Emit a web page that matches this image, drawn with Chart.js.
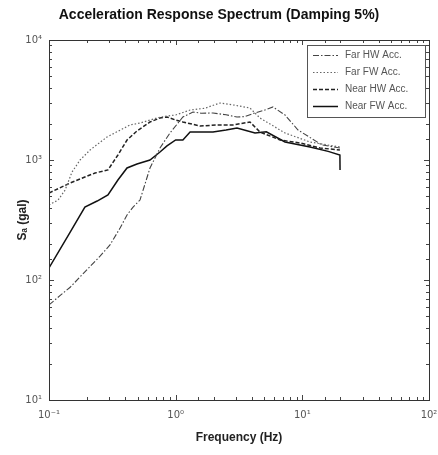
<!DOCTYPE html>
<html>
<head>
<meta charset="utf-8">
<script src="https://cdn.jsdelivr.net/npm/chart.js@4/dist/chart.umd.min.js"></script>
<style>
  html, body { margin: 0; padding: 0; background: #fff; }
  #wrap { width: 438px; height: 455px; }
</style>
</head>
<body>
<div id="wrap"><canvas id="spectrum" width="438" height="455"></canvas></div>
<script>
// values (frequency in Hz, Sa in gal)
const farHwFreq = [0.1, 0.122, 0.147, 0.192, 0.253, 0.303, 0.364, 0.413, 0.461, 0.523, 0.627, 0.752, 0.902, 1.14, 1.37, 1.6, 1.97, 2.5, 3.05, 3.5, 4.23, 5.0, 5.87, 7.3, 9.25, 14.3, 19.8];
const farHwAcc  = [62, 74, 87, 117, 158, 196, 271, 348, 405, 464, 858, 1259, 1679, 2281, 2512, 2450, 2466, 2380, 2281, 2300, 2466, 2600, 2766, 2371, 1778, 1334, 1259];

const farFwFreq = [0.1, 0.118, 0.134, 0.152, 0.176, 0.211, 0.287, 0.436, 0.523, 0.712, 0.854, 1.0, 1.3, 1.7, 2.24, 3.0, 3.86, 4.63, 7.3, 11.5, 19.8];
const farFwAcc  = [422, 464, 562, 794, 1000, 1212, 1555, 1958, 2033, 2239, 2326, 2371, 2610, 2700, 2985, 2850, 2710, 2239, 1679, 1413, 1283];

const nearHwFreq = [0.1, 0.147, 0.192, 0.231, 0.292, 0.35, 0.413, 0.495, 0.627, 0.752, 0.854, 1.0, 1.14, 1.56, 2.12, 2.84, 3.86, 4.63, 6.67, 9.59, 13.8, 19.8];
const nearHwAcc  = [531, 643, 721, 779, 826, 1101, 1468, 1745, 2074, 2239, 2281, 2154, 2074, 1920, 1958, 1958, 2074, 1711, 1468, 1386, 1259, 1212];

const nearFwFreq = [0.1, 0.147, 0.192, 0.24, 0.292, 0.35, 0.413, 0.495, 0.627, 0.752, 0.854, 1.0, 1.14, 1.3, 1.97, 2.5, 3.05, 4.23, 5.2, 7.3, 11.5, 16, 19.8, 19.85];
const nearFwAcc  = [126, 251, 405, 455, 511, 681, 858, 926, 1000, 1166, 1309, 1468, 1468, 1711, 1711, 1778, 1848, 1679, 1720, 1413, 1283, 1180, 1100, 826];

const seriesLabels = ['Far HW Acc.', 'Far FW Acc.', 'Near HW Acc.', 'Near FW Acc.'];
const xTickLabels = {'-1': '10⁻¹', '0': '10⁰', '1': '10¹', '2': '10²'};
const yTickLabels = {'1': '10¹', '2': '10²', '3': '10³', '4': '10⁴'};

const toPoints = (fs, vs) => fs.map((f, i) => ({x: f, y: vs[i]}));

const powerLabel = (table) => (value) => {
    const e = Math.log10(value);
    const r = Math.round(e);
    return Math.abs(e - r) < 1e-6 && table[r] !== undefined ? table[r] : '';
};

// box round the plot with inward tick marks on all four sides
const boxTicks = {
    id: 'boxTicks',
    afterDraw(chart) {
        const {ctx, chartArea: a, scales} = chart;
        ctx.save();
        ctx.strokeStyle = '#444';
        ctx.lineWidth = 1;
        ctx.beginPath();
        scales.x.ticks.forEach((t) => {
            const px = Math.round(scales.x.getPixelForValue(t.value)) + 0.5;
            const len = t.label ? 5 : 3;
            ctx.moveTo(px, a.bottom); ctx.lineTo(px, a.bottom - len);
            ctx.moveTo(px, a.top); ctx.lineTo(px, a.top + len);
        });
        scales.y.ticks.forEach((t) => {
            const py = Math.round(scales.y.getPixelForValue(t.value)) + 0.5;
            const len = t.label ? 5 : 3;
            ctx.moveTo(a.left, py); ctx.lineTo(a.left + len, py);
            ctx.moveTo(a.right, py); ctx.lineTo(a.right - len, py);
        });
        ctx.stroke();
        ctx.strokeStyle = '#333';
        ctx.strokeRect(Math.round(a.left) + 0.5, Math.round(a.top) + 0.5, Math.round(a.right - a.left), Math.round(a.bottom - a.top));
        ctx.restore();
    }
};

const boxLegend = {
    id: 'boxLegend',
    afterDatasetsDraw(chart) {
        const ctx = chart.ctx;
        const a = chart.chartArea;
        const x0 = a.right - 122, y0 = a.top + 5, w = 118, h = 72;
        ctx.save();
        ctx.fillStyle = '#fff';
        ctx.fillRect(x0, y0, w, h);
        ctx.strokeStyle = '#555';
        ctx.lineWidth = 1;
        ctx.strokeRect(x0 + 0.5, y0 + 0.5, w, h);
        chart.data.datasets.forEach((ds, i) => {
            const y = y0 + 10.5 + i * 17;
            ctx.beginPath();
            ctx.setLineDash(ds.borderDash || []);
            ctx.strokeStyle = ds.borderColor;
            ctx.lineWidth = ds.borderWidth;
            ctx.moveTo(x0 + 6, y);
            ctx.lineTo(x0 + 31, y);
            ctx.stroke();
            ctx.setLineDash([]);
            ctx.fillStyle = '#555';
            ctx.font = '10px "Liberation Sans", Arial, sans-serif';
            ctx.textBaseline = 'middle';
            ctx.fillText(ds.label, x0 + 38, y);
        });
        ctx.restore();
    }
};

const ctx = document.getElementById('spectrum').getContext('2d');
new Chart(ctx, {
    type: 'line',
    data: {
        datasets: [
            {label: seriesLabels[0], data: toPoints(farHwFreq, farHwAcc), borderColor: '#444', borderWidth: 1.1, borderDash: [6, 2, 1.5, 2]},
            {label: seriesLabels[1], data: toPoints(farFwFreq, farFwAcc), borderColor: '#666', borderWidth: 1.2, borderDash: [1.5, 2]},
            {label: seriesLabels[2], data: toPoints(nearHwFreq, nearHwAcc), borderColor: '#222', borderWidth: 1.5, borderDash: [4, 2]},
            {label: seriesLabels[3], data: toPoints(nearFwFreq, nearFwAcc), borderColor: '#111', borderWidth: 1.5}
        ]
    },
    options: {
        responsive: false,
        animation: false,
        devicePixelRatio: 1,
        elements: {point: {radius: 0}, line: {tension: 0, fill: false}},
        layout: {padding: {top: 0, right: 0, left: 0, bottom: 0}},
        plugins: {
            legend: {display: false},
            tooltip: {enabled: false},
            title: {
                display: true,
                text: 'Acceleration Response Spectrum (Damping 5%)',
                color: '#111',
                font: {family: '"Liberation Sans", Arial, sans-serif', size: 14, weight: 'bold', lineHeight: 1.2},
                padding: {top: 7, bottom: 16.2}
            }
        },
        scales: {
            x: {
                type: 'logarithmic',
                min: 0.1,
                max: 100,
                grid: {display: false, drawTicks: false},
                border: {display: false},
                ticks: {
                    autoSkip: false,
                    maxRotation: 0,
                    padding: 9,
                    color: '#555',
                    font: {family: '"DejaVu Sans", sans-serif', size: 10},
                    callback: powerLabel(xTickLabels)
                },
                title: {
                    display: true,
                    text: 'Frequency (Hz)',
                    color: '#222',
                    font: {family: '"Liberation Sans", Arial, sans-serif', size: 12, weight: 'bold'},
                    padding: {top: 4, bottom: 10}
                },
                afterFit: (s) => { s.height = 55; s.paddingRight = 9; s.paddingLeft = 0; }
            },
            y: {
                type: 'logarithmic',
                min: 10,
                max: 10000,
                grid: {display: false, drawTicks: false},
                border: {display: false},
                ticks: {
                    autoSkip: false,
                    padding: 7,
                    color: '#555',
                    font: {family: '"DejaVu Sans", sans-serif', size: 10},
                    callback: powerLabel(yTickLabels)
                },
                title: {
                    display: true,
                    text: 'Sₐ (gal)',
                    color: '#222',
                    font: {family: '"Liberation Sans", Arial, sans-serif', size: 12, weight: 'bold'},
                    padding: {top: 15, bottom: 0}
                },
                afterFit: (s) => { s.width = 49; s.paddingTop = 0; s.paddingBottom = 0; }
            }
        }
    },
    plugins: [boxTicks, boxLegend]
});
</script>
</body>
</html>
